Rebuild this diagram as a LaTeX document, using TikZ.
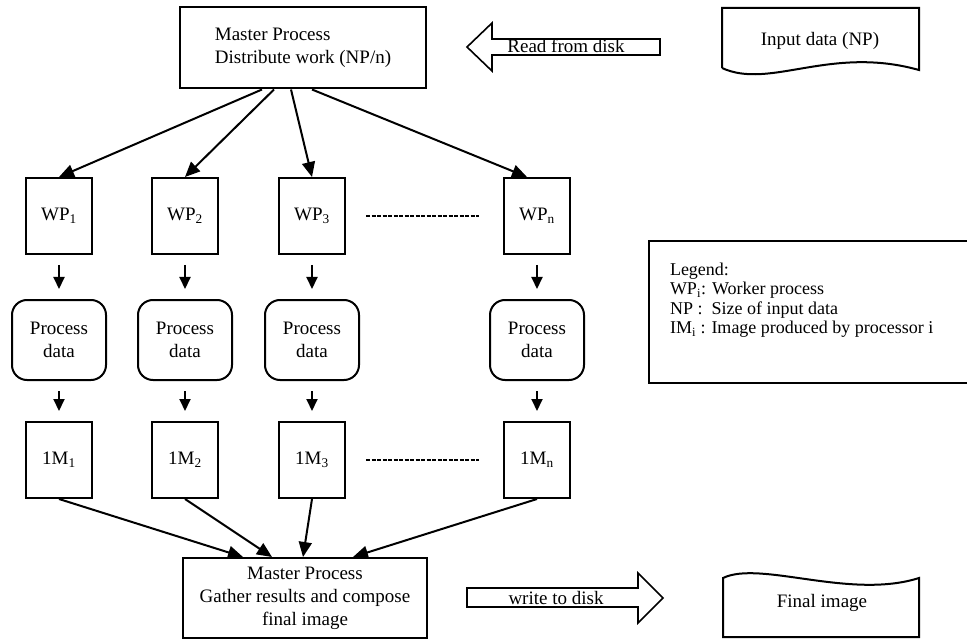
\documentclass[tikz,border=0pt]{standalone}
\usepackage{fontspec}
\setmainfont{Liberation Serif}
\usetikzlibrary{arrows.meta}

\begin{document}
\begin{tikzpicture}[x=1pt, y=-1pt, line width=2pt,
    font=\fontsize{19}{23}\selectfont,
    mainbox/.style={draw, minimum width=246pt, minimum height=81pt, inner sep=0pt},
    wpbox/.style={draw, minimum width=66pt, minimum height=76pt, inner sep=0pt},
    procbox/.style={draw, rounded corners=15pt, minimum width=94pt, minimum height=80pt,
      inner sep=0pt, align=center},
    flow/.style={-{Triangle[length=15pt, width=13pt]}},
    stub/.style={-{Triangle[length=12pt, width=11pt]}, shorten <=10pt, shorten >=10pt},
    gap/.style={dash pattern=on 4pt off 1.5pt, shorten <=20pt, shorten >=24pt}]
  \useasboundingbox (0,0) rectangle (967,639);

  % Master process (top)
  \node[mainbox, align=left] (master) at (303,48) {Master Process\\Distribute work (NP/n)};

  % Read from disk
  \draw[line width=1.6pt] (467,47) -- (492,23) -- (492,39) -- (660,39) -- (660,55) -- (492,55)
    -- (492,71) -- cycle;
  \node[inner sep=0pt, anchor=base] (readdisk) at (566,53) {Read from disk};

  % Input data
  \node[inner sep=0pt] (input) at (820,41) {Input data (NP)};
  \draw (722,68) -- (722,8) -- (919,8) -- (919,70)
    .. controls (830,45) and (770,90) .. (722,68);

  % Workers, processing and images
  \foreach \k/\x in {1/59, 2/185, 3/312, n/537} {
    \node[wpbox] (wp\k) at (\x,216) {WP\textsubscript{\k}};
    \node[procbox] (proc\k) at (\x,340) {Process\\data};
    \node[wpbox] (im\k) at (\x,460) {1M\textsubscript{\k}};
    \draw[stub] (wp\k) -- (proc\k);
    \draw[stub] (proc\k) -- (im\k);
  }
  \draw[gap] (wp3.east) -- (wpn.west);
  \draw[gap] (im3.east) -- (imn.west);

  \draw[flow] ([xshift=-41pt]master.south) -- (wp1.north);
  \draw[flow] ([xshift=-29pt]master.south) -- (wp2.north);
  \draw[flow] ([xshift=-12pt]master.south) -- (wp3.north);
  \draw[flow] ([xshift=9pt]master.south) -- ([xshift=-10pt]wpn.north);

  % Master process (bottom)
  \node[mainbox, minimum width=244pt, minimum height=80pt, align=center] (gather) at (305,598)
    {Master Process\\Gather results and compose\\final image};

  \draw[flow] (im1.south) -- ([xshift=-62pt]gather.north);
  \draw[flow] (im2.south) -- ([xshift=-33pt]gather.north);
  \draw[flow] (im3.south) -- ([xshift=-2pt]gather.north);
  \draw[flow] (imn.south) -- ([xshift=48pt]gather.north);

  % Write to disk
  \draw[line width=1.6pt] (467,588) -- (638,588) -- (638,573) -- (663,598) -- (638,623)
    -- (638,607) -- (467,607) -- cycle;
  \node[inner sep=0pt, anchor=base] (writedisk) at (556,604) {write to disk};

  % Final image
  \node[inner sep=0pt] (final) at (822,603) {Final image};
  \draw (723,578) .. controls (760,560) and (850,600) .. (919,578)
    -- (919,637) -- (723,637) -- cycle;

  % Legend
  \draw (975,241) -- (649,241) -- (649,383) -- (975,383);
  \node[anchor=north west, align=left, inner sep=0pt, font=\fontsize{18}{19.5}\selectfont]
    (legend) at (669,262) {Legend:\\WP\textsubscript{i}: Worker process\\NP :\ \ Size of input data\\%
    IM\textsubscript{i} : Image produced by processor i};
\end{tikzpicture}
\end{document}
